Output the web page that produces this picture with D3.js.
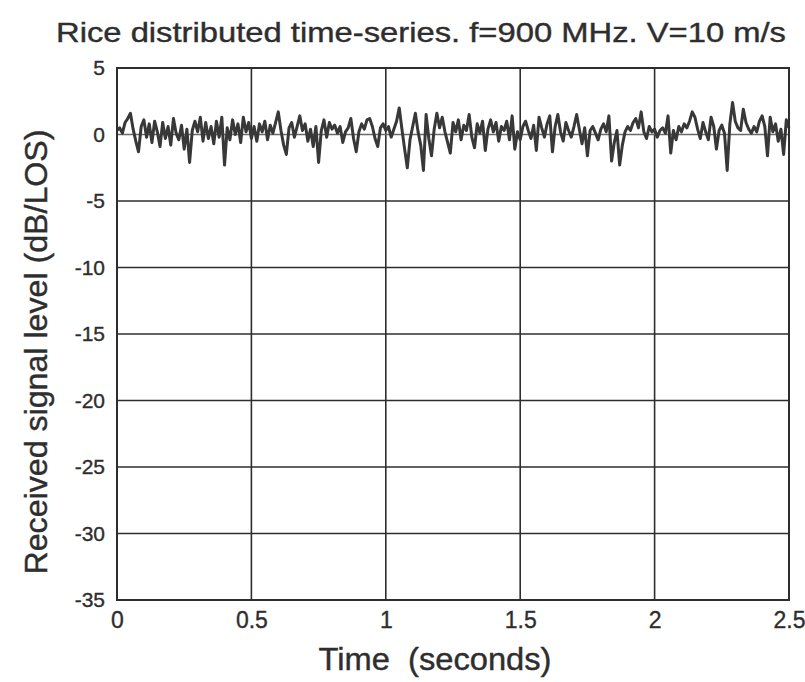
<!DOCTYPE html>
<html>
<head>
<meta charset="utf-8">
<script src="https://cdn.jsdelivr.net/npm/d3@7"></script>
<style>
  body { margin: 0; background: #fff; }
  svg { display: block; font-family: "Liberation Sans", Arial, sans-serif; }
</style>
</head>
<body>
<svg></svg>
<script>
// chart data
const timeStep = 0.01
const signal = [
  0.3, 0.5, 0.1, 0.9, 1.2, 1.6, 0.4, -0.5, -1.3, 0.6,
  1.1, -0.2, 0.8, -0.6, 1.0, 0.2, -0.9, 0.9, -0.3, 0.6,
  -0.8, 1.2, 0.1, -0.4, 0.7, -1.1, 0.4, -2.1, 0.3, 1.0,
  0.2, 1.3, -0.5, 0.9, -0.3, 0.6, -0.7, 1.0, -0.2, 1.3,
  -2.3, 0.5, -0.4, 1.1, 0.0, 0.8, -0.6, 1.3, 0.2, 0.9,
  -0.3, 0.6, -0.5, 0.8, 0.2, 1.0, -0.4, 0.7, 0.1, 0.9,
  1.7, 0.3, -0.8, -1.5, 0.5, 0.9, -0.2, 0.6, 1.4, 0.3,
  0.8, -0.5, 0.4, -0.9, 0.6, -2.1, 0.3, 1.1, -0.2, 0.9,
  0.4, 0.7, 0.1, 0.6, -0.6, 0.2, 0.5, 1.2, -0.3, -1.3,
  0.2, 0.8, 0.4, 1.1, 1.2, 0.6, -0.3, -0.9, 0.5, 0.8,
  0.3, 0.6, -0.2, 0.4, 1.0, 2.0, 0.4, -1.1, -2.5, -0.4,
  0.6, 1.6, 0.2, -0.8, -2.7, 1.5, -0.3, -1.6, 0.4, 1.6,
  0.5, 1.3, 0.2, -0.6, -1.4, 0.9, 0.2, 1.1, -0.4, 0.7,
  0.3, 1.5, -0.2, -1.0, 0.8, 0.1, 1.0, -1.2, 0.4, 1.1,
  0.2, 0.9, -0.5, 0.6, 0.3, 1.0, -0.4, 1.4, -1.1, 0.2,
  -0.4, 0.6, 1.0, 0.3, -0.3, 0.7, -1.2, 1.3, 0.5, -0.2,
  0.8, 1.4, -1.3, 0.6, 1.5, 0.2, -0.5, 0.9, 0.3, -0.2,
  0.6, 1.5, 0.4, -0.7, 0.5, -1.6, 0.3, 0.6, 0.1, -0.4,
  0.4, 0.8, 0.2, 1.4, -2.0, -0.6, 0.3, -2.3, -0.8, 0.2,
  0.6, 0.3, 0.9, 1.2, 0.5, 1.7, 0.2, -0.3, 0.6, 0.2,
  0.4, -0.2, 0.3, 0.5, 0.1, 1.4, -1.4, 0.3, -0.4, 0.6,
  0.2, 0.8, 0.5, 1.0, 1.7, 1.3, 0.4, -0.3, 0.9, 0.2,
  -0.4, 1.3, 0.6, -1.1, 0.3, 0.7, 0.1, -2.7, 0.8, 2.4,
  1.0, 0.5, 0.3, 1.9, 0.9, 0.4, 0.1, 0.6, 0.2, 1.0,
  1.4, 0.6, -1.6, 1.3, 0.2, 0.8, -0.5, 0.4, -1.5, 1.1,
  0.5
]
const xTicks = [0, 0.5, 1, 1.5, 2, 2.5]
const yTicks = [5, 0, -5, -10, -15, -20, -25, -30, -35]

const titleText = 'Rice distributed time-series. f=900 MHz. V=10 m/s'
const xLabel = 'Time  (seconds)'
const yLabel = 'Received signal level (dB/LOS)'

// layout
const width = 805
const height = 682
const margin = {top: 68, right: 16, bottom: 82, left: 117}
const ink = '#2e2e2e'

const svg = d3.select('svg')
    .attr('width', width)
    .attr('height', height)

const xScale = d3.scaleLinear()
    .domain([0, 2.5])
    .range([margin.left, width - margin.right])

const yScale = d3.scaleLinear()
    .domain([-35, 5])
    .range([height - margin.bottom, margin.top])

// grid
svg.append('g')
    .selectAll('line')
    .data(xTicks)
    .enter()
    .append('line')
    .attr('x1', d => xScale(d))
    .attr('x2', d => xScale(d))
    .attr('y1', yScale(5))
    .attr('y2', yScale(-35))
    .attr('stroke', ink)
    .attr('stroke-width', 1.6)

svg.append('g')
    .selectAll('line')
    .data(yTicks)
    .enter()
    .append('line')
    .attr('x1', xScale(0))
    .attr('x2', xScale(2.5))
    .attr('y1', d => yScale(d))
    .attr('y2', d => yScale(d))
    .attr('stroke', d => d === 0 ? '#6a6a6a' : ink)
    .attr('stroke-width', 1.6)

// axes (labels only, lines come from grid)
let styleLabels = (sel, size) => sel
    .attr('font-size', size)
    .attr('fill', ink)
    .attr('stroke', ink)
    .attr('stroke-width', 0.35)
    .attr('font-family', '"Liberation Sans", Arial, sans-serif')

let xAxis = d3.axisBottom(xScale)
    .tickValues(xTicks)
    .tickFormat(d => String(d))
    .tickSize(0)
    .tickPadding(12)
svg.append('g')
    .attr('transform', 'translate(0,' + (height - margin.bottom) + ')')
    .call(xAxis)
    .call(g => g.select('.domain').remove())
    .selectAll('text')
    .call(styleLabels, 23)

let yAxis = d3.axisLeft(yScale)
    .tickValues(yTicks)
    .tickFormat(d => String(d))
    .tickSize(0)
    .tickPadding(12)
svg.append('g')
    .attr('transform', 'translate(' + margin.left + ',0)')
    .call(yAxis)
    .call(g => g.select('.domain').remove())
    .selectAll('text')
    .call(styleLabels, 21)

// signal
let line = d3.line()
    .x((d, i) => xScale(i * timeStep))
    .y(d => yScale(d))

svg.append('path')
    .datum(signal)
    .attr('d', line)
    .attr('fill', 'none')
    .attr('stroke', '#383838')
    .attr('stroke-width', 3)
    .attr('stroke-linejoin', 'round')

// frame
svg.append('rect')
    .attr('x', xScale(0))
    .attr('y', yScale(5))
    .attr('width', xScale(2.5) - xScale(0))
    .attr('height', yScale(-35) - yScale(5))
    .attr('fill', 'none')
    .attr('stroke', ink)
    .attr('stroke-width', 2)

// text
svg.append('text')
    .attr('x', 421)
    .attr('y', 42)
    .attr('text-anchor', 'middle')
    .attr('font-size', 28)
    .attr('fill', ink)
    .attr('stroke', ink)
    .attr('stroke-width', 0.4)
    .attr('textLength', 730)
    .attr('lengthAdjust', 'spacingAndGlyphs')
    .text(titleText)

svg.append('text')
    .attr('x', 435)
    .attr('y', 670)
    .attr('text-anchor', 'middle')
    .attr('font-size', 31)
    .attr('fill', ink)
    .attr('stroke', ink)
    .attr('stroke-width', 0.4)
    .attr('textLength', 233)
    .attr('lengthAdjust', 'spacingAndGlyphs')
    .style('white-space', 'pre')
    .text(xLabel)

svg.append('text')
    .attr('transform', 'translate(47,' + 352 + ') rotate(-90)')
    .attr('text-anchor', 'middle')
    .attr('font-size', 31)
    .attr('fill', ink)
    .attr('stroke', ink)
    .attr('stroke-width', 0.4)
    .attr('textLength', 445)
    .attr('lengthAdjust', 'spacingAndGlyphs')
    .text(yLabel)
</script>
</body>
</html>
